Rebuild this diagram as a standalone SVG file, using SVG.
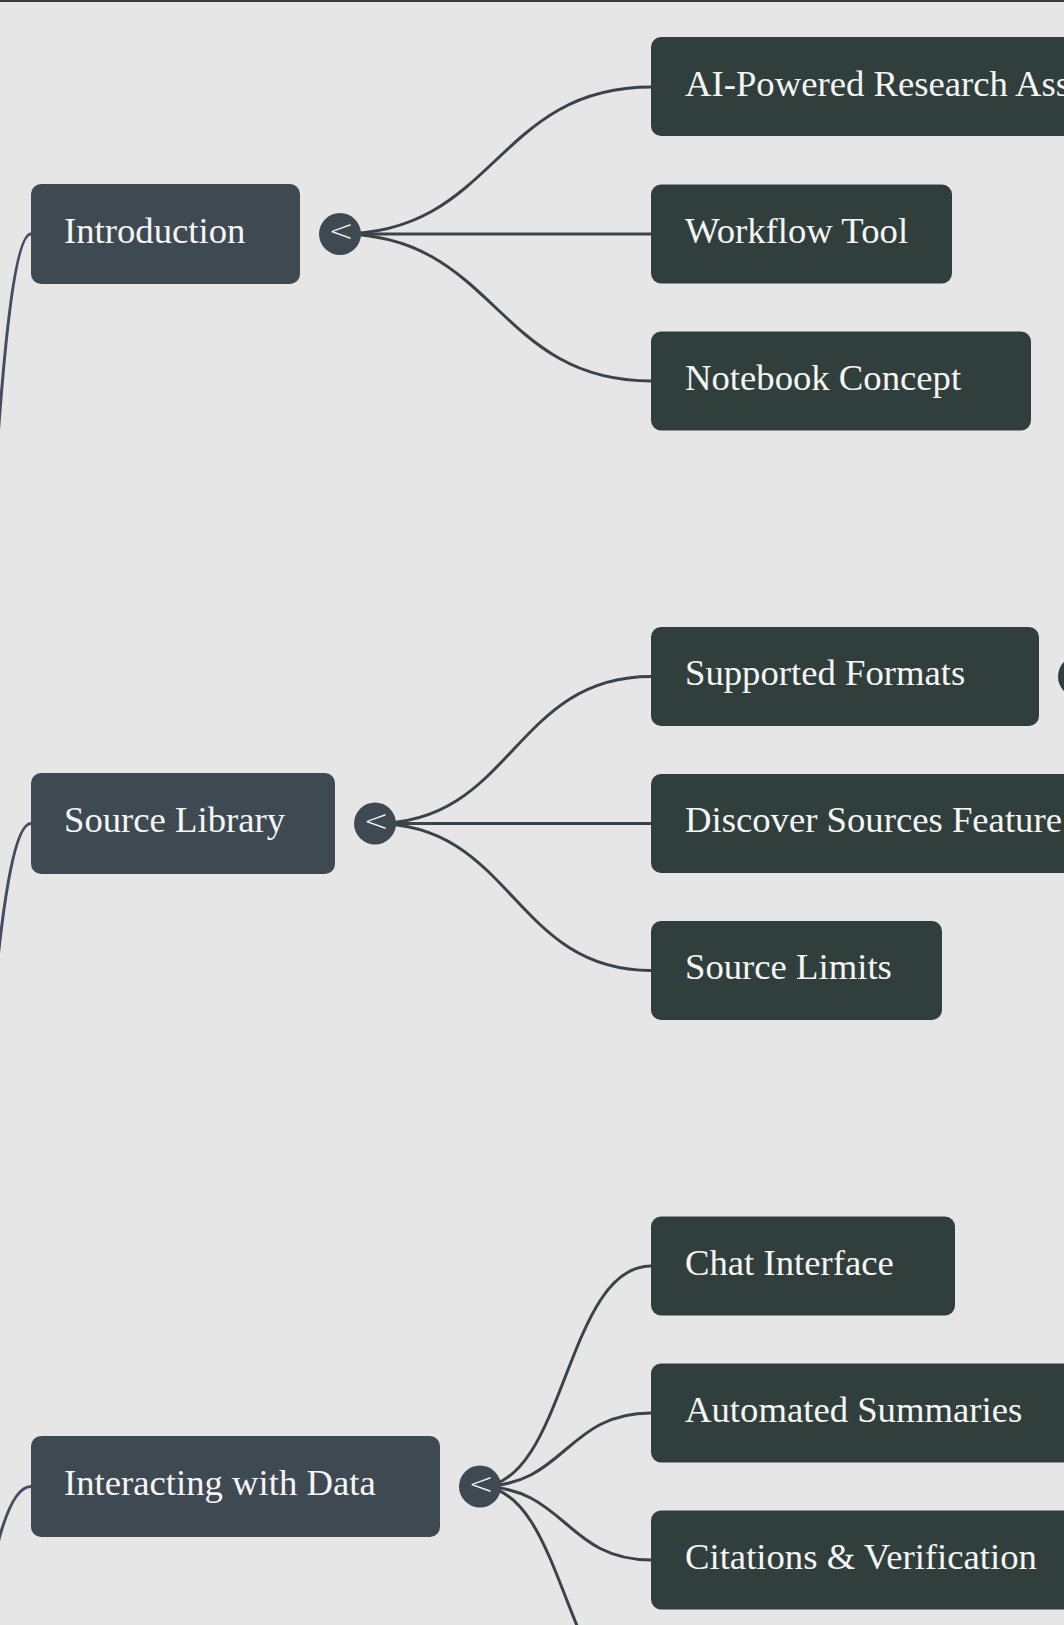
<svg xmlns="http://www.w3.org/2000/svg" width="1064" height="1625" viewBox="0 0 1064 1625">
  <style>
    .bg { fill: #e6e6e6; }
    .main rect { fill: #3e4952; }
    .child rect { fill: #313f3c; }
    .label { font-family: "Liberation Serif", "Times New Roman", serif; font-size: 36.7px; fill: #f5f5f5; }
    .btn-main { fill: #3e4952; }
    .btn-child { fill: #313f3c; }
    .chev { font-family: "DejaVu Sans", sans-serif; font-size: 30px; font-weight: 300; fill: #f0f0f0; text-anchor: middle; }
    .root-link { fill: none; stroke: #4a4b62; stroke-width: 3; }
    .link { fill: none; stroke: #3b4349; stroke-width: 3; }
  </style>
  <rect class="bg" x="0" y="0" width="1064" height="1625"/>
  <rect x="0" y="0" width="1064" height="2" fill="#3c3c3c"/>

  <g id="connectors">
    <path class="root-link" d="M -95,1964 C -32,1964 -32,234 31,234"/>
    <path class="root-link" d="M -95,1964 C -32,1964 -32,823.5 31,823.5"/>
    <path class="root-link" d="M -95,1964 C -32,1964 -32,1486.5 31,1486.5"/>

    <path class="link" d="M 340,234 C 495.5,234 495.5,87 651,87"/>
    <path class="link" d="M 340,234 L 651,234"/>
    <path class="link" d="M 340,234 C 495.5,234 495.5,381 651,381"/>

    <path class="link" d="M 375,823.5 C 513,823.5 513,676.5 651,676.5"/>
    <path class="link" d="M 375,823.5 L 651,823.5"/>
    <path class="link" d="M 375,823.5 C 513,823.5 513,970.5 651,970.5"/>

    <path class="link" d="M 480,1486.5 C 565.5,1486.5 565.5,1266 651,1266"/>
    <path class="link" d="M 480,1486.5 C 565.5,1486.5 565.5,1413 651,1413"/>
    <path class="link" d="M 480,1486.5 C 565.5,1486.5 565.5,1560 651,1560"/>
    <path class="link" d="M 480,1486.5 C 565.5,1486.5 565.5,1707 651,1707"/>
  </g>

  <g id="introduction" class="main">
    <rect x="31" y="184" width="269" height="100" rx="10"/>
    <text class="label" x="64" y="243">Introduction</text>
  </g>
  <g id="introduction-toggle">
    <circle class="btn-main" cx="340" cy="234" r="21"/>
    <text class="chev" x="341" y="241">&lt;</text>
  </g>

  <g id="ai-powered" class="child">
    <rect x="651" y="37" width="500" height="99" rx="10"/>
    <text class="label" x="685" y="96">AI-Powered Research Assistant</text>
  </g>
  <g id="workflow-tool" class="child">
    <rect x="651" y="184.5" width="301" height="99" rx="10"/>
    <text class="label" x="685" y="242.5">Workflow Tool</text>
  </g>
  <g id="notebook-concept" class="child">
    <rect x="651" y="331.5" width="380" height="99" rx="10"/>
    <text class="label" x="685" y="389.5">Notebook Concept</text>
  </g>

  <g id="source-library" class="main">
    <rect x="31" y="773" width="304" height="101" rx="10"/>
    <text class="label" x="64" y="831.5">Source Library</text>
  </g>
  <g id="source-library-toggle">
    <circle class="btn-main" cx="375" cy="823.5" r="21"/>
    <text class="chev" x="376" y="830.5">&lt;</text>
  </g>

  <g id="supported-formats" class="child">
    <rect x="651" y="627" width="388" height="99" rx="10"/>
    <text class="label" x="685" y="685">Supported Formats</text>
  </g>
  <g id="supported-formats-toggle">
    <circle class="btn-child" cx="1079" cy="676.5" r="21"/>
  </g>
  <g id="discover-sources" class="child">
    <rect x="651" y="774" width="460" height="99" rx="10"/>
    <text class="label" x="685" y="832">Discover Sources Feature</text>
  </g>
  <g id="source-limits" class="child">
    <rect x="651" y="921" width="291" height="99" rx="10"/>
    <text class="label" x="685" y="979">Source Limits</text>
  </g>

  <g id="interacting" class="main">
    <rect x="31" y="1436" width="409" height="101" rx="10"/>
    <text class="label" x="64" y="1494.5">Interacting with Data</text>
  </g>
  <g id="interacting-toggle">
    <circle class="btn-main" cx="480" cy="1486.5" r="21"/>
    <text class="chev" x="481" y="1493.5">&lt;</text>
  </g>

  <g id="chat-interface" class="child">
    <rect x="651" y="1216.5" width="304" height="99" rx="10"/>
    <text class="label" x="685" y="1274.5">Chat Interface</text>
  </g>
  <g id="automated-summaries" class="child">
    <rect x="651" y="1363.5" width="460" height="99" rx="10"/>
    <text class="label" x="685" y="1421.5">Automated Summaries</text>
  </g>
  <g id="citations" class="child">
    <rect x="651" y="1510.5" width="460" height="99" rx="10"/>
    <text class="label" x="685" y="1568.5">Citations &amp; Verification</text>
  </g>
</svg>
